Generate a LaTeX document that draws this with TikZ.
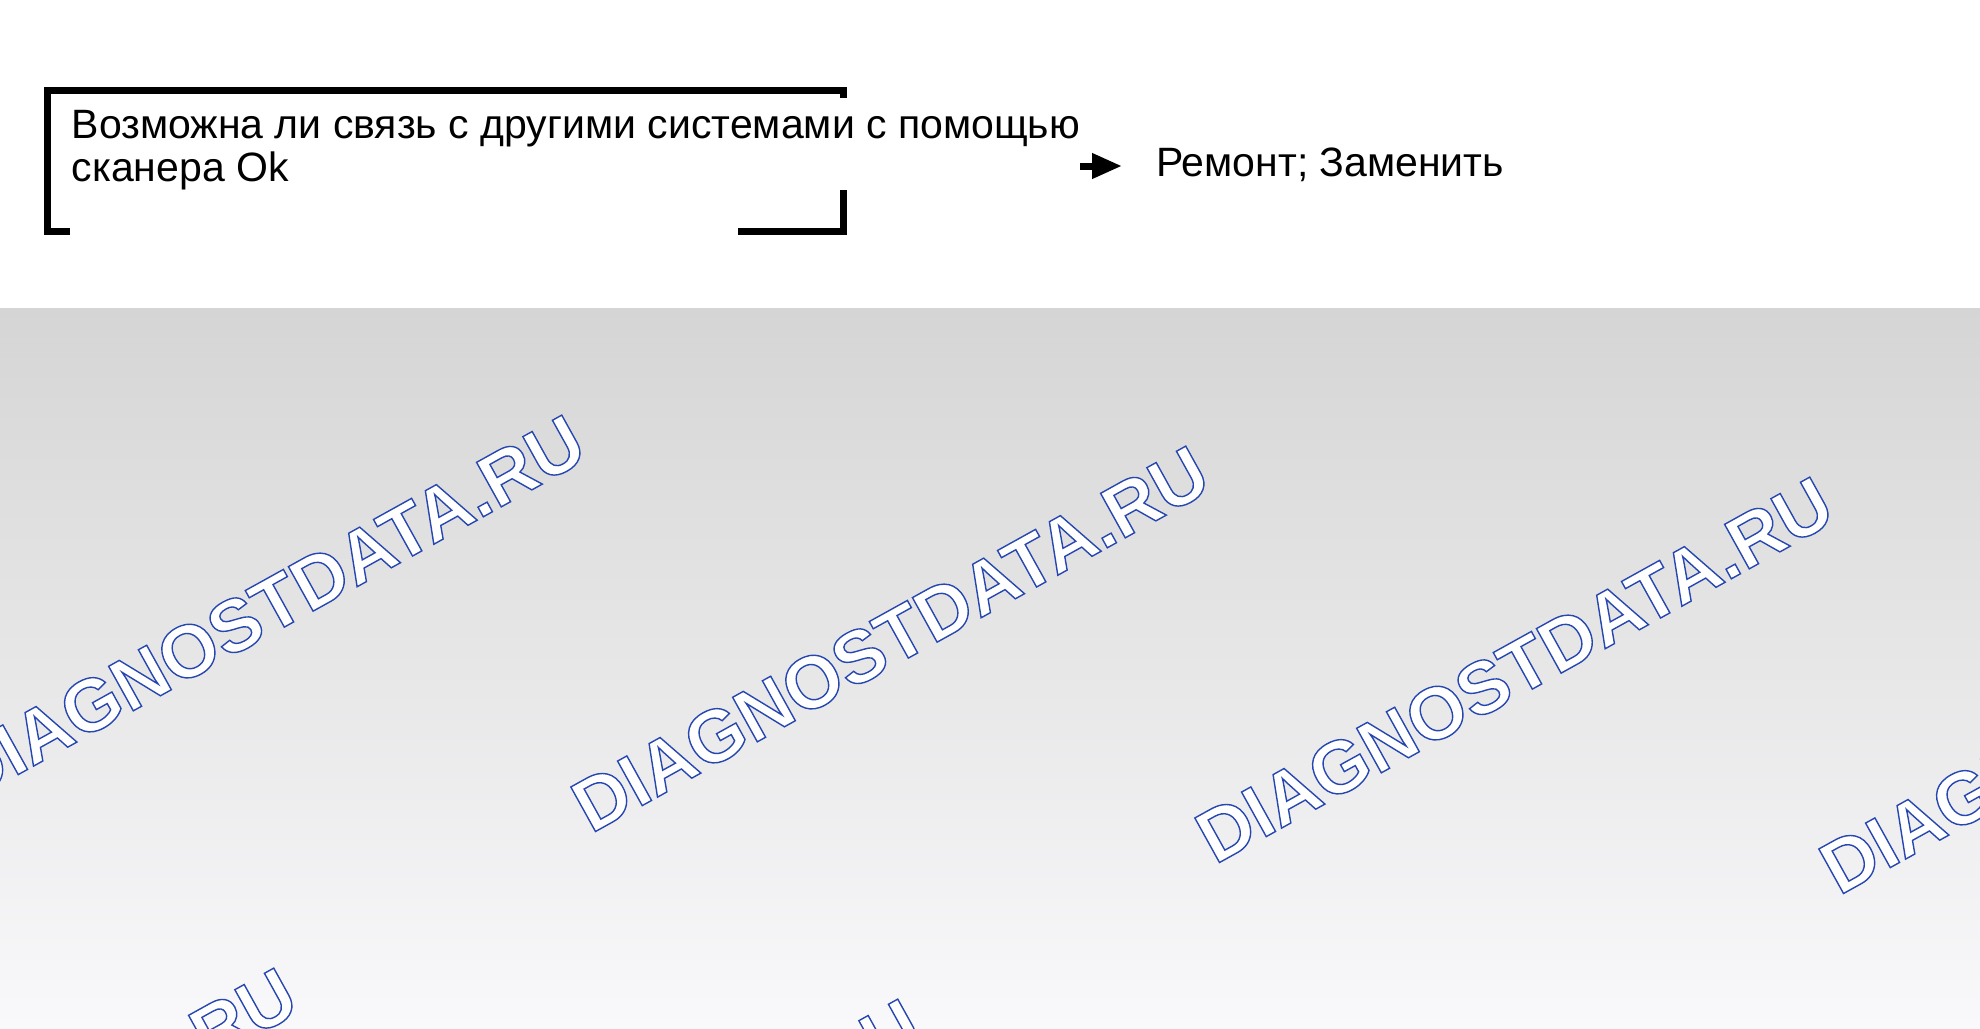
\documentclass[tikz,border=0pt]{standalone}
\usepackage{fontspec}
\setmainfont{Liberation Sans}
\usetikzlibrary{arrows.meta,fadings}
\definecolor{bgtop}{HTML}{D5D5D5}
\definecolor{bgmid}{HTML}{E6E6E6}
\definecolor{bgbot}{HTML}{F9F9FB}
\tikzfading[name=streakfade, left color=transparent!100, middle color=transparent!35, right color=transparent!100]
\newcommand{\wmtext}{DIAGNOSTDATA.RU}
\newcommand{\outlinedtext}[1]{\special{pdf:literal direct 2 Tr 1.4 w 0.153 0.278 0.690 RG 1 1 1 rg}#1\special{pdf:literal direct 0 Tr}}
\newcommand{\wmark}[2]{%
  \node[wm] (#1) at (#2) {\outlinedtext{\wmtext}};
}
\begin{document}
\begin{tikzpicture}[x=1pt,y=-1pt,
  boxline/.style={line width=7pt, line cap=butt, line join=miter},
  qtext/.style={font=\fontsize{41}{43.2}\selectfont, align=left, inner sep=0pt, anchor=base west},
  rtext/.style={font=\fontsize{41}{43.2}\selectfont, inner sep=0pt, anchor=base west},
  arrowline/.style={line width=7pt, -{Triangle[length=30pt,width=24pt]}},
  wm/.style={font=\fontsize{74}{74}\selectfont\bfseries, text=white, anchor=base west, rotate=29, inner sep=0pt}
]
\useasboundingbox (0,0) rectangle (1980,1028);
\fill[white] (0,0) rectangle (1980,1028);

% grey lower area with watermarks
\begin{scope}
  \clip (0,308) rectangle (1980,1028);
  \shade[top color=bgtop, middle color=bgmid, bottom color=bgbot] (0,308) rectangle (1980,1028);
  \fill[white, path fading=streakfade] (920,308) rectangle (1130,900);
  \wmark{w1}{-33,803}
  \wmark{w2}{591,834}
  \wmark{w3}{1215,865}
  \wmark{w4}{1839,896}
  \wmark{w5}{-321,1356}
  \wmark{w6}{303,1387}
\end{scope}

% box
\coordinate (trs) at (843,98);
\coordinate (tr) at (843,90);
\coordinate (tl) at (47,90);
\coordinate (bl) at (47,231);
\coordinate (bls) at (70,231);
\coordinate (rbt) at (843,190);
\coordinate (rb) at (843,231);
\coordinate (rbl) at (738,231);
\draw[boxline] (trs) -- (tr) -- (tl) -- (bl) -- (bls);
\draw[boxline] (rbt) -- (rb) -- (rbl);

\node[qtext] (q) at (71.5,181.7) {Возможна ли связь с другими системами с помощью\\сканера Ok};

\node[rtext] (r) at (1156,176.5) {Ремонт; Заменить};
\coordinate (as) at (1080,166);
\draw[arrowline, shorten >=34pt] (as) -- (as -| r.west);
\end{tikzpicture}
\end{document}
